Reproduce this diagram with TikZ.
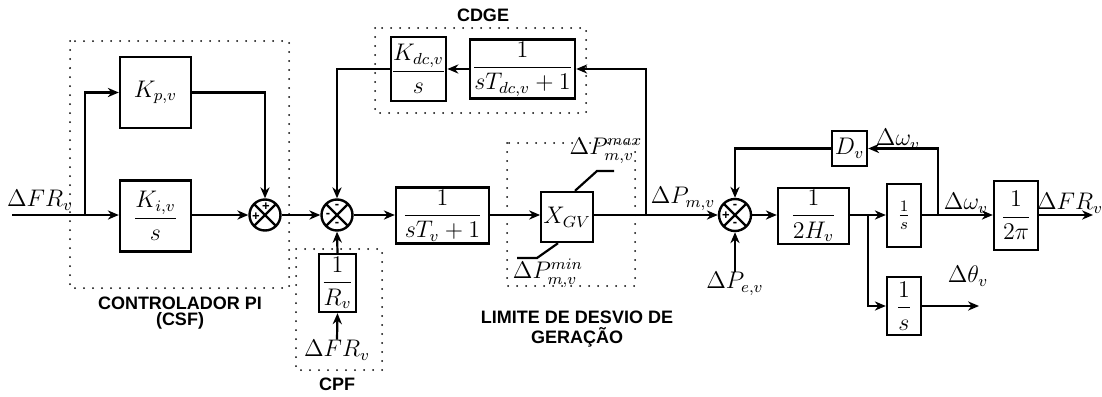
\documentclass[tikz,border=0pt]{standalone}
\usepackage{fontspec}
\usepackage{amsmath}
\newfontfamily\labfont{Liberation Sans}
\usetikzlibrary{arrows.meta,calc}
\tikzset{
  blk/.style={draw, line width=1.2pt, inner sep=1pt, fill=white},
  sz/.style 2 args={minimum width=#1*0.5pt, minimum height=#2*0.5pt},
  sumnode/.style={circle, draw, line width=1.2pt, minimum size=15.5pt, inner sep=0pt,
    path picture={\draw[line width=1.2pt] (path picture bounding box.north west) -- (path picture bounding box.south east)
      (path picture bounding box.north east) -- (path picture bounding box.south west);}},
  sgn/.style={inner sep=0pt, font=\labfont\bfseries\fontsize{6.5}{7}\selectfont},
  wire/.style={line width=1.1pt},
  arr/.style={line width=1.1pt, -{Stealth[length=5.5pt,width=4.6pt]}},
  dotbox/.style={line width=1pt, dash pattern=on 0pt off 4.5pt, line cap=round},
  grp/.style={font=\labfont\bfseries\fontsize{9}{10}\selectfont, inner sep=0pt},
  lbl/.style={inner sep=0pt}
}
\begin{document}
\begin{tikzpicture}[x=0.5pt,y=-0.5pt,font=\fontsize{11.5}{13}\selectfont]
\useasboundingbox (0,0) rectangle (1102,396);
% dotted group boxes
\draw[dotbox] (70,41) rectangle (289,288);
\draw[dotbox] (296,249) rectangle (382,370);
\draw[dotbox] (375,28) rectangle (586,113);
\draw[dotbox] (507,143) rectangle (635,286);
% group labels
\node[grp] (gpi) at (180,303) {CONTROLADOR PI};
\node[grp] (gcsf) at (180,321) {(CSF)};
\node[grp] (gcpf) at (337,384) {CPF};
\node[grp] (gcdge) at (483,15) {CDGE};
\node[grp] (glim) at (577,317) {LIMITE DE DESVIO DE};
\node[grp] (gger) at (577,337) {GERAÇÃO};
% blocks
\node[blk, sz={71}{71}] (kp) at (155.5,92.5) {$K_{p,v}$};
\node[blk, sz={71}{71}] (ki) at (155.5,216) {$\dfrac{K_{i,v}}{s}$};
\node[sumnode] (s1) at (265,215) {};
\node[sumnode] (s2) at (337,215) {};
\node[blk, sz={35}{58}] (rv) at (337.5,283) {$\dfrac{1}{R_v}$};
\node[blk, sz={93}{56}] (tv) at (442.5,215.5) {$\dfrac{1}{sT_v+1}$};
\node[blk, sz={44}{50}] (xgv) at (567,217) {$X_{GV}$};
\node[blk, sz={93}{56}] (tdc) at (522.5,69) {$\dfrac{1}{sT_{dc,v}+1}$};
\node[blk, sz={51}{64}, inner sep=0pt] (kdc) at (418.5,69) {$\dfrac{K_{dc,v}}{s}$};
\node[sumnode, minimum size=16pt] (s3) at (735,215) {};
\node[blk, sz={71}{52}] (h2) at (813.5,216) {$\dfrac{1}{2H_v}$};
\node[blk, sz={35}{35}] (dv) at (849.5,148.5) {$D_v$};
\node[blk, sz={34}{63}] (is1) at (904,215.5) {$\tfrac{1}{s}$};
\node[blk, sz={34}{58}] (is2) at (904,306) {$\dfrac{1}{s}$};
\node[blk, sz={44}{69}] (tp) at (1016,215.5) {$\dfrac{1}{2\pi}$};
% signs
\node[sgn] (s1a) at ($(s1)+(1,-8)$) {+};
\node[sgn] (s1b) at ($(s1)+(-9,2)$) {+};
\node[sgn] (s2a) at ($(s2)+(0,-9)$) {-};
\node[sgn] (s2b) at ($(s2)+(-9,0)$) {-};
\node[sgn] (s2c) at ($(s2)+(0,9)$) {-};
\node[sgn] (s3a) at ($(s3)+(0,-9)$) {-};
\node[sgn] (s3b) at ($(s3)+(-9,1)$) {+};
\node[sgn] (s3c) at ($(s3)+(0,9)$) {-};
% text labels
\node[lbl] (lin) at (40,200) {$\Delta FR_v$};
\node[lbl] (lfr) at (337,350) {$\Delta FR_v$};
\node[lbl] (lpm) at (683,199) {$\Delta P_{m,v}$};
\node[lbl] (lpe) at (735,284) {$\Delta P_{e,v}$};
\node[lbl] (lw1) at (898,139) {$\Delta\omega_v$};
\node[lbl] (lw2) at (966,203) {$\Delta\omega_v$};
\node[lbl] (lout) at (1070,203) {$\Delta FR_v$};
\node[lbl] (lth) at (968,276) {$\Delta\theta_v$};
\node[lbl] (lmax) at (606,151) {$\Delta P_{m,v}^{max}$};
\node[lbl] (lmin) at (548,273) {$\Delta P_{m,v}^{min}$};
% coordinates
\coordinate (in0) at (12,215);
\coordinate (br1) at (85,215);
\coordinate (brp) at (646,215);
\coordinate (brh) at (868,215);
\coordinate (brw) at (938,215);
\coordinate (out) at (1093,215);
\coordinate (thout) at (979,306);
\coordinate (mx1) at (597,171);
\coordinate (mx2) at (614,171);
\coordinate (mn1) at (537,258);
\coordinate (mn2) at (517,258);
% connectors
\draw[arr] (in0) -- (ki.west |- in0);
\draw[arr] (br1) |- (kp.west);
\draw[arr] (kp.east) -| (s1.north);
\draw[arr] (ki.east |- s1) -- (s1.west);
\draw[arr] (s1.east) -- (s2.west);
\draw[arr] (lfr.north) -- (rv.south);
\draw[arr] (rv.north) -- (s2.south);
\draw[arr] (s2.east) -- (tv.west |- s2);
\draw[arr] (tv.east |- s2) -- (xgv.west |- s2);
\draw[arr] (xgv.east |- s2) -- (s3.west);
\draw[arr] (brp) |- (tdc.east);
\draw[arr] (tdc.west) -- (kdc.east);
\draw[arr] (kdc.west) -| (s2.north);
\draw[wire] ($(xgv.north)+(8,0)$) -- (mx1) -- (mx2);
\draw[wire] ($(xgv.south)+(-9,0)$) -- (mn1) -- (mn2);
\draw[arr] (s3.east) -- (h2.west |- s3);
\draw[arr] (h2.east |- s3) -- (is1.west |- s3);
\draw[arr] (brh) |- (is2.west);
\draw[arr] (is1.east |- s3) -- (tp.west |- s3);
\draw[arr] (brw) |- (dv.east);
\draw[arr] (dv.west) -| (s3.north);
\draw[arr] (lpe.north) -- (s3.south);
\draw[arr] (tp.east |- s3) -- (out);
\draw[arr] (is2.east) -- (thout);
\end{tikzpicture}
\end{document}
